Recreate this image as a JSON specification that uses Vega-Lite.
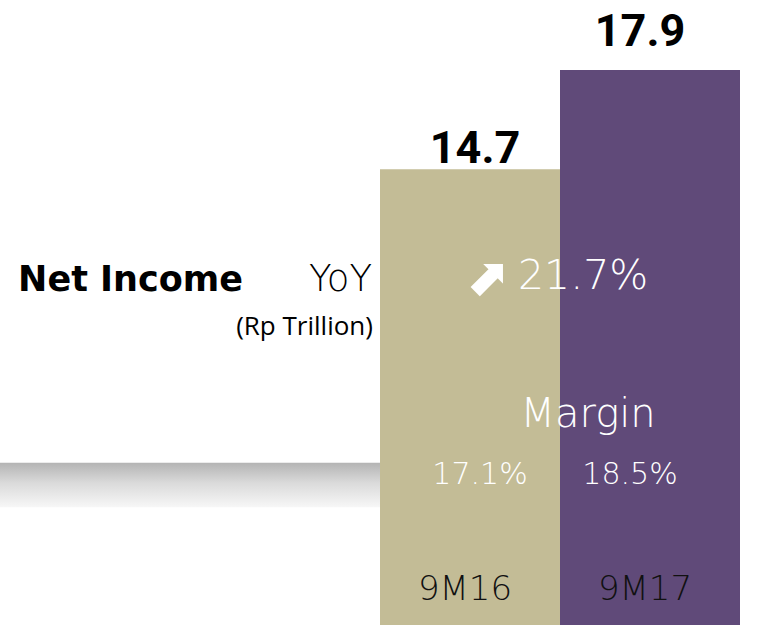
{
  "$schema": "https://vega.github.io/schema/vega-lite/v6.json",
  "width": 759,
  "height": 641,
  "autosize": {"type": "fit", "contains": "padding"},
  "padding": 0,
  "background": "white",
  "config": {"view": {"stroke": null}},
  "datasets": {
    "bars": [
      {"period": "9M16", "income": 14.7, "margin": "17.1%"},
      {"period": "9M17", "income": 17.9, "margin": "18.5%"}
    ],
    "one": [{"k": 1}]
  },
  "resolve": {"scale": {"x": "independent", "y": "shared"}},
  "layer": [
    {
      "data": {"name": "one"},
      "mark": {"type": "rect", "color": {"gradient": "linear", "x1": 0, "y1": 0, "x2": 0, "y2": 1, "stops": [{"offset": 0, "color": "#b4b4b4"}, {"offset": 0.45, "color": "#dadada"}, {"offset": 1, "color": "#f7f7f7"}]}},
      "encoding": {
        "x": {"datum": 0, "type": "quantitative", "scale": {"domain": [0, 1], "range": [0, 390]}, "axis": null},
        "x2": {"datum": 1},
        "y": {"datum": 5.23, "type": "quantitative", "scale": {"domain": [0, 20], "range": [625, 5]}, "axis": null},
        "y2": {"datum": 3.8}
      }
    },
    {
      "data": {"name": "bars"},
      "resolve": {"scale": {"x": "shared"}},
      "layer": [
        {
          "mark": {"type": "bar", "width": {"band": 1}},
          "encoding": {
            "x": {"field": "period", "type": "nominal", "scale": {"domain": ["9M16", "9M17"], "range": [380, 740], "paddingInner": 0, "paddingOuter": 0}, "axis": null},
            "y": {"field": "income", "type": "quantitative", "scale": {"domain": [0, 20], "range": [625, 5]}, "axis": null},
            "color": {"field": "period", "type": "nominal", "scale": {"domain": ["9M16", "9M17"], "range": ["#c3bc96", "#604a79"]}, "legend": null}
          }
        },
        {
          "transform": [{"filter": "datum.period === '9M16'"}],
          "mark": {"type": "text", "font": "Roboto", "fontWeight": "bold", "fontSize": 45, "color": "#000000", "baseline": "alphabetic", "dy": -6, "dx": 5},
          "encoding": {
            "x": {"field": "period", "type": "nominal"},
            "y": {"field": "income", "type": "quantitative"},
            "text": {"field": "income", "type": "quantitative", "format": ".1f"}
          }
        },
        {
          "transform": [{"filter": "datum.period === '9M17'"}],
          "mark": {"type": "text", "font": "Roboto", "fontWeight": "bold", "fontSize": 45, "color": "#000000", "baseline": "alphabetic", "dy": -24, "dx": -10},
          "encoding": {
            "x": {"field": "period", "type": "nominal"},
            "y": {"field": "income", "type": "quantitative"},
            "text": {"field": "income", "type": "quantitative", "format": ".1f"}
          }
        },
        {
          "transform": [{"filter": "datum.period === '9M16'"}],
          "mark": {"type": "text", "font": "DejaVu Sans", "fontWeight": 200, "fontSize": 30, "color": "#ffffff", "baseline": "middle", "dx": 10},
          "encoding": {
            "x": {"field": "period", "type": "nominal"},
            "y": {"datum": 4.84, "type": "quantitative"},
            "text": {"field": "margin"}
          }
        },
        {
          "transform": [{"filter": "datum.period === '9M17'"}],
          "mark": {"type": "text", "font": "DejaVu Sans", "fontWeight": 200, "fontSize": 30, "color": "#ffffff", "baseline": "middle", "dx": -20},
          "encoding": {
            "x": {"field": "period", "type": "nominal"},
            "y": {"datum": 4.84, "type": "quantitative"},
            "text": {"field": "margin"}
          }
        },
        {
          "transform": [{"filter": "datum.period === '9M16'"}],
          "mark": {"type": "text", "font": "DejaVu Sans", "fontWeight": 200, "fontSize": 34, "color": "#111111", "baseline": "middle", "dx": -5},
          "encoding": {
            "x": {"field": "period", "type": "nominal"},
            "y": {"datum": 1.13, "type": "quantitative"},
            "text": {"field": "period"}
          }
        },
        {
          "transform": [{"filter": "datum.period === '9M17'"}],
          "mark": {"type": "text", "font": "DejaVu Sans", "fontWeight": 200, "fontSize": 34, "color": "#111111", "baseline": "middle", "dx": -5},
          "encoding": {
            "x": {"field": "period", "type": "nominal"},
            "y": {"datum": 1.13, "type": "quantitative"},
            "text": {"field": "period"}
          }
        },
        {
          "data": {"name": "one"},
          "mark": {"type": "text", "font": "DejaVu Sans", "fontWeight": 200, "fontSize": 40, "color": "#ffffff", "baseline": "middle", "dx": -62},
          "encoding": {
            "x": {"datum": "9M17"},
            "y": {"datum": 6.77, "type": "quantitative"},
            "text": {"value": "Margin"}
          }
        },
        {
          "data": {"name": "one"},
          "mark": {"type": "text", "font": "DejaVu Sans", "fontWeight": "bold", "fontSize": 52, "color": "#ffffff", "baseline": "middle", "dx": 16, "dy": 2},
          "encoding": {
            "x": {"datum": "9M16"},
            "y": {"datum": 11.21, "type": "quantitative"},
            "text": {"value": "⬈"}
          }
        },
        {
          "data": {"name": "one"},
          "mark": {"type": "text", "font": "DejaVu Sans", "fontWeight": 200, "fontSize": 41, "color": "#ffffff", "baseline": "middle", "align": "left", "dx": 48},
          "encoding": {
            "x": {"datum": "9M16"},
            "y": {"datum": 11.21, "type": "quantitative"},
            "text": {"value": "21.7%"}
          }
        },
        {
          "data": {"name": "one"},
          "mark": {"type": "text", "font": "DejaVu Sans", "fontWeight": "bold", "fontSize": 35, "color": "#000000", "baseline": "middle", "align": "right", "dx": -227},
          "encoding": {
            "x": {"datum": "9M16"},
            "y": {"datum": 11.13, "type": "quantitative"},
            "text": {"value": "Net Income"}
          }
        },
        {
          "data": {"name": "one"},
          "mark": {"type": "text", "font": "DejaVu Sans", "fontWeight": 200, "fontSize": 37, "color": "#000000", "baseline": "middle", "align": "right", "dx": -98},
          "encoding": {
            "x": {"datum": "9M16"},
            "y": {"datum": 11.13, "type": "quantitative"},
            "text": {"value": "YoY"}
          }
        },
        {
          "data": {"name": "one"},
          "mark": {"type": "text", "font": "Open Sans", "fontSize": 26, "color": "#000000", "baseline": "middle", "align": "right", "dx": -97},
          "encoding": {
            "x": {"datum": "9M16"},
            "y": {"datum": 9.6, "type": "quantitative"},
            "text": {"value": "(Rp Trillion)"}
          }
        }
      ]
    }
  ]
}
